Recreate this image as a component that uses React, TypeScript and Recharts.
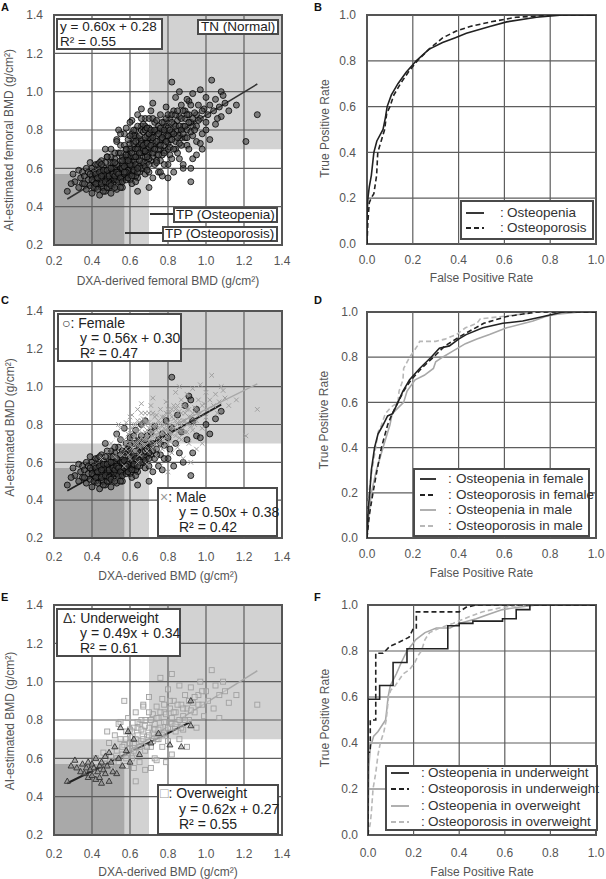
import React from 'react';
import {
  ScatterChart,
  Scatter,
  LineChart,
  Line,
  XAxis,
  YAxis,
  ReferenceArea,
  ReferenceLine,
} from 'recharts';

const FONT = "'Liberation Sans', Arial, Helvetica, sans-serif";

// ---------- axis ticks ----------
const BMD_TICKS = [0.2, 0.4, 0.6, 0.8, 1.0, 1.2, 1.4];
const BMD_GRID = [0.4, 0.6, 0.8, 1.0, 1.2];
const ROC_TICKS = [0, 0.2, 0.4, 0.6, 0.8, 1.0];
const ROC_GRID = [0.2, 0.4, 0.6, 0.8];

// ---------- diagnostic thresholds (g/cm²) ----------
const NORMAL_CUT = 0.7;
const OSTEOPOROSIS_CUT = 0.57;

// ---------- scatter data: [DXA BMD, AI BMD] ----------
const FEMALE: [number, number][] = [
  [0.27, 0.48], [0.3, 0.57], [0.31, 0.53], [0.33, 0.59], [0.34, 0.55], [0.35, 0.52], [0.35, 0.58], [0.33, 0.5], [0.29, 0.52],
  [0.36, 0.56], [0.37, 0.49], [0.37, 0.6], [0.38, 0.54], [0.38, 0.58], [0.39, 0.51], [0.39, 0.63], [0.4, 0.47], [0.4, 0.56],
  [0.4, 0.6], [0.41, 0.53], [0.41, 0.58], [0.42, 0.5], [0.42, 0.62], [0.42, 0.55], [0.36, 0.52], [0.39, 0.57],
  [0.43, 0.57], [0.43, 0.52], [0.44, 0.46], [0.44, 0.6], [0.44, 0.55], [0.45, 0.58], [0.45, 0.5], [0.45, 0.64], [0.46, 0.53],
  [0.46, 0.57], [0.46, 0.61], [0.47, 0.48], [0.47, 0.55], [0.47, 0.59], [0.48, 0.52], [0.48, 0.57], [0.48, 0.66], [0.49, 0.54],
  [0.49, 0.6], [0.49, 0.5], [0.5, 0.56], [0.5, 0.58], [0.5, 0.63], [0.5, 0.47], [0.44, 0.53], [0.46, 0.56], [0.48, 0.55],
  [0.43, 0.62], [0.47, 0.7], [0.45, 0.54], [0.47, 0.57], [0.49, 0.57], [0.5, 0.53], [0.46, 0.5],
  [0.51, 0.55], [0.51, 0.6], [0.51, 0.52], [0.52, 0.57], [0.52, 0.54], [0.52, 0.65], [0.53, 0.49], [0.53, 0.56], [0.53, 0.59],
  [0.54, 0.61], [0.54, 0.55], [0.54, 0.68], [0.55, 0.53], [0.55, 0.57], [0.55, 0.72], [0.56, 0.58], [0.56, 0.62], [0.56, 0.5],
  [0.57, 0.55], [0.57, 0.65], [0.57, 0.59], [0.58, 0.56], [0.58, 0.63], [0.58, 0.7], [0.52, 0.6], [0.55, 0.6], [0.53, 0.75],
  [0.57, 0.78], [0.51, 0.58], [0.53, 0.54], [0.54, 0.58], [0.56, 0.55], [0.58, 0.6], [0.55, 0.64],
  [0.59, 0.57], [0.59, 0.67], [0.6, 0.6], [0.6, 0.54], [0.6, 0.73], [0.61, 0.58], [0.61, 0.64], [0.62, 0.56], [0.62, 0.7],
  [0.62, 0.61], [0.63, 0.59], [0.63, 0.66], [0.63, 0.77], [0.64, 0.62], [0.64, 0.55], [0.65, 0.68], [0.65, 0.58], [0.65, 0.72],
  [0.66, 0.64], [0.66, 0.8], [0.61, 0.52], [0.64, 0.48], [0.6, 0.57], [0.62, 0.58], [0.59, 0.62], [0.63, 0.56],
  [0.67, 0.6], [0.67, 0.7], [0.68, 0.66], [0.68, 0.57], [0.69, 0.74], [0.69, 0.63], [0.7, 0.68], [0.7, 0.58], [0.71, 0.76],
  [0.71, 0.64], [0.72, 0.55], [0.72, 0.7], [0.73, 0.62], [0.73, 0.79], [0.74, 0.67], [0.75, 0.72], [0.75, 0.58], [0.68, 0.82],
  [0.7, 0.5], [0.76, 0.64], [0.77, 0.75], [0.77, 0.56], [0.78, 0.69], [0.79, 0.82], [0.8, 0.62], [0.8, 0.73], [0.81, 0.67],
  [0.82, 1.05], [0.82, 0.78], [0.83, 0.58], [0.84, 0.7], [0.85, 0.85], [0.86, 0.65], [0.87, 0.76], [0.88, 0.6], [0.89, 0.9],
  [0.9, 0.72], [0.91, 0.95], [0.92, 0.53], [0.92, 0.93], [0.93, 0.82], [0.95, 0.74], [0.97, 0.73], [1.0, 0.8], [1.02, 0.75],
  [1.05, 0.83], [1.08, 0.87], [0.95, 0.88], [0.93, 0.65],
  [0.4, 0.54], [0.41, 0.5], [0.42, 0.57], [0.43, 0.55], [0.43, 0.49], [0.44, 0.58], [0.45, 0.52], [0.45, 0.56], [0.46, 0.59],
  [0.46, 0.48], [0.47, 0.53], [0.47, 0.63], [0.48, 0.5], [0.48, 0.59], [0.49, 0.52], [0.49, 0.56], [0.5, 0.51], [0.5, 0.6],
  [0.51, 0.57], [0.51, 0.63], [0.52, 0.5], [0.52, 0.56], [0.53, 0.58], [0.53, 0.62], [0.54, 0.53], [0.54, 0.57], [0.55, 0.55],
  [0.55, 0.5], [0.56, 0.6], [0.56, 0.53], [0.57, 0.57], [0.57, 0.61], [0.58, 0.54], [0.58, 0.66], [0.59, 0.59], [0.59, 0.55],
  [0.6, 0.63], [0.6, 0.66], [0.61, 0.56], [0.61, 0.61], [0.62, 0.59], [0.62, 0.64], [0.63, 0.62], [0.63, 0.53], [0.64, 0.58],
  [0.64, 0.66], [0.65, 0.61], [0.66, 0.6], [0.66, 0.68], [0.67, 0.63], [0.68, 0.61], [0.69, 0.67], [0.7, 0.62], [0.71, 0.7],
  [0.72, 0.66], [0.44, 0.63], [0.42, 0.52], [0.5, 0.66], [0.52, 0.68], [0.56, 0.66], [0.58, 0.58], [0.6, 0.69], [0.62, 0.74],
  [0.64, 0.71], [0.66, 0.74], [0.68, 0.72], [0.7, 0.65], [0.74, 0.64], [0.76, 0.7], [0.78, 0.62],
];

const MALE: [number, number][] = [
  [0.45, 0.62], [0.48, 0.66], [0.5, 0.7], [0.52, 0.63], [0.53, 0.74], [0.55, 0.68], [0.55, 0.78], [0.56, 0.64], [0.57, 0.72],
  [0.58, 0.81], [0.58, 0.67], [0.59, 0.75], [0.6, 0.7], [0.6, 0.62], [0.61, 0.78], [0.61, 0.85], [0.62, 0.73], [0.62, 0.66],
  [0.63, 0.8], [0.63, 0.7], [0.64, 0.76], [0.64, 0.88], [0.65, 0.72], [0.65, 0.64], [0.66, 0.82], [0.66, 0.75], [0.67, 0.69],
  [0.67, 0.79], [0.68, 0.86], [0.68, 0.73], [0.69, 0.77], [0.69, 0.66], [0.7, 0.81], [0.7, 0.71], [0.71, 0.9], [0.71, 0.75],
  [0.72, 0.68], [0.72, 0.79], [0.73, 0.84], [0.73, 0.73], [0.74, 0.77], [0.74, 0.63], [0.75, 0.82], [0.75, 0.7], [0.76, 0.88],
  [0.76, 0.75], [0.77, 0.79], [0.77, 0.67], [0.78, 0.84], [0.78, 0.72], [0.79, 0.92], [0.79, 0.77], [0.8, 0.81], [0.8, 0.7],
  [0.81, 0.86], [0.81, 0.75], [0.82, 0.65], [0.82, 0.79], [0.83, 0.9], [0.83, 0.83], [0.84, 0.74], [0.84, 0.97], [0.85, 0.8],
  [0.85, 0.68], [0.86, 0.87], [0.86, 0.77], [0.87, 0.93], [0.87, 0.72], [0.88, 0.82], [0.88, 0.62], [0.89, 0.86], [0.89, 0.76],
  [0.9, 0.96], [0.9, 0.8], [0.91, 0.7], [0.91, 0.88], [0.92, 0.84], [0.93, 0.99], [0.93, 0.77], [0.94, 0.89], [0.95, 0.82],
  [0.95, 0.67], [0.96, 0.93], [0.97, 1.01], [0.97, 0.86], [0.98, 0.78], [0.99, 0.91], [1.0, 0.97], [1.0, 0.84], [1.01, 0.88],
  [1.02, 0.93], [1.03, 1.06], [1.04, 0.9], [1.05, 0.96], [1.06, 0.86], [1.07, 0.92], [1.08, 1.0], [1.09, 0.98], [1.1, 0.94],
  [1.12, 0.9], [1.16, 0.93], [1.21, 0.74], [1.27, 0.88], [0.57, 0.58], [0.64, 0.6], [0.69, 0.59], [0.76, 0.58], [0.8, 0.55],
  [0.72, 0.94], [0.66, 0.91], [0.6, 0.84], [0.54, 0.8], [0.86, 1.0], [0.92, 0.6], [0.98, 0.7], [0.7, 0.76], [0.74, 0.8],
  [0.78, 0.78], [0.82, 0.84], [0.66, 0.7], [0.62, 0.77], [0.68, 0.8], [0.72, 0.74],
  [0.58, 0.7], [0.59, 0.64], [0.6, 0.77], [0.61, 0.68], [0.62, 0.8], [0.63, 0.74], [0.63, 0.66], [0.64, 0.7], [0.64, 0.82],
  [0.65, 0.77], [0.65, 0.68], [0.66, 0.73], [0.66, 0.86], [0.67, 0.72], [0.67, 0.83], [0.68, 0.76], [0.68, 0.69], [0.69, 0.81],
  [0.69, 0.73], [0.7, 0.78], [0.7, 0.86], [0.71, 0.72], [0.71, 0.8], [0.72, 0.76], [0.72, 0.86], [0.73, 0.7], [0.73, 0.8],
  [0.74, 0.74], [0.74, 0.85], [0.75, 0.78], [0.75, 0.67], [0.76, 0.81], [0.76, 0.72], [0.77, 0.84], [0.77, 0.76], [0.78, 0.8],
  [0.78, 0.68], [0.79, 0.74], [0.79, 0.86], [0.8, 0.77], [0.8, 0.88], [0.81, 0.8], [0.81, 0.71], [0.82, 0.88], [0.82, 0.75],
  [0.83, 0.78], [0.83, 0.7], [0.84, 0.82], [0.84, 0.88], [0.85, 0.76], [0.85, 0.9], [0.86, 0.82], [0.86, 0.73], [0.87, 0.8],
  [0.87, 0.86], [0.88, 0.78], [0.88, 0.9], [0.89, 0.82], [0.9, 0.76], [0.9, 0.88], [0.91, 0.84], [0.92, 0.79], [0.93, 0.86],
  [0.94, 0.8], [0.96, 0.85], [0.98, 0.9],
];

const UNDERWEIGHT: [number, number][] = [
  [0.27, 0.48], [0.29, 0.56], [0.31, 0.59], [0.32, 0.55], [0.34, 0.53], [0.35, 0.57], [0.36, 0.52], [0.37, 0.55], [0.38, 0.58],
  [0.38, 0.5], [0.39, 0.54], [0.4, 0.57], [0.4, 0.51], [0.41, 0.55], [0.42, 0.6], [0.42, 0.49], [0.43, 0.53], [0.44, 0.56],
  [0.44, 0.5], [0.45, 0.58], [0.45, 0.47], [0.46, 0.54], [0.47, 0.61], [0.47, 0.52], [0.48, 0.56], [0.49, 0.63], [0.49, 0.48],
  [0.5, 0.58], [0.51, 0.53], [0.52, 0.66], [0.53, 0.52], [0.54, 0.6], [0.55, 0.76], [0.56, 0.56], [0.58, 0.64], [0.59, 0.74],
  [0.6, 0.58], [0.62, 0.7], [0.65, 0.62], [0.71, 0.68], [0.75, 0.73], [0.81, 0.67], [0.87, 0.66], [0.92, 0.77], [0.92, 0.9],
];

const OVERWEIGHT: [number, number][] = [
  [0.4, 0.55], [0.42, 0.6], [0.44, 0.52], [0.46, 0.63], [0.48, 0.57], [0.49, 0.68], [0.5, 0.61], [0.51, 0.54], [0.52, 0.72],
  [0.53, 0.64], [0.54, 0.58], [0.55, 0.7], [0.55, 0.79], [0.56, 0.62], [0.57, 0.67], [0.58, 0.74], [0.58, 0.56], [0.59, 0.81],
  [0.6, 0.65], [0.6, 0.71], [0.61, 0.6], [0.62, 0.76], [0.62, 0.68], [0.63, 0.84], [0.63, 0.63], [0.64, 0.72], [0.65, 0.78],
  [0.65, 0.58], [0.66, 0.69], [0.67, 0.88], [0.67, 0.74], [0.68, 0.64], [0.68, 0.8], [0.69, 0.71], [0.7, 0.76], [0.7, 0.92],
  [0.71, 0.66], [0.72, 0.83], [0.72, 0.73], [0.73, 0.78], [0.73, 0.6], [0.74, 0.87], [0.75, 0.7], [0.75, 0.81], [0.76, 0.76],
  [0.77, 0.91], [0.77, 0.66], [0.78, 0.84], [0.78, 0.73], [0.79, 0.79], [0.8, 0.96], [0.8, 0.69], [0.81, 0.86], [0.81, 0.76],
  [0.82, 0.81], [0.82, 0.62], [0.83, 0.9], [0.84, 0.74], [0.84, 0.84], [0.85, 0.79], [0.86, 0.98], [0.86, 0.7], [0.87, 0.88],
  [0.88, 0.82], [0.88, 0.75], [0.89, 0.93], [0.9, 0.86], [0.9, 0.66], [0.91, 0.8], [0.92, 0.97], [0.93, 0.89], [0.94, 0.84],
  [0.95, 0.76], [0.96, 0.93], [0.97, 1.0], [0.98, 0.88], [0.99, 0.82], [1.0, 0.95], [1.01, 0.9], [1.03, 1.06], [1.04, 0.86],
  [1.05, 0.98], [1.07, 0.93], [1.09, 1.0], [1.1, 0.95], [1.12, 0.89], [1.16, 0.93], [1.07, 0.81], [1.27, 0.88], [0.48, 0.74],
  [0.54, 0.78], [0.57, 0.9], [0.62, 0.55], [0.68, 0.54], [0.74, 0.59], [0.79, 0.58], [0.63, 0.48], [0.67, 0.87], [0.82, 1.04],
  [0.76, 1.02], [0.71, 0.55], [0.66, 0.8], [0.7, 0.84], [0.74, 0.7], [0.78, 0.88], [0.64, 0.76], [0.6, 0.75],
  [0.56, 0.66], [0.58, 0.7], [0.59, 0.63], [0.6, 0.68], [0.61, 0.74], [0.62, 0.64], [0.63, 0.7], [0.64, 0.79], [0.65, 0.66],
  [0.66, 0.75], [0.67, 0.7], [0.68, 0.77], [0.69, 0.66], [0.7, 0.72], [0.71, 0.8], [0.72, 0.69], [0.73, 0.75], [0.74, 0.81],
  [0.75, 0.75], [0.76, 0.84], [0.77, 0.72], [0.78, 0.79], [0.79, 0.83], [0.8, 0.76], [0.81, 0.9], [0.82, 0.78], [0.83, 0.84],
  [0.84, 0.78], [0.85, 0.88], [0.86, 0.8], [0.87, 0.76], [0.88, 0.86], [0.89, 0.8], [0.91, 0.9], [0.92, 0.85], [0.94, 0.92],
  [0.96, 0.88], [0.98, 0.95], [0.58, 0.6], [0.53, 0.6], [0.5, 0.57], [0.47, 0.6], [0.45, 0.57],
];

// ---------- fitted regression segments: [x, y] endpoints ----------
const FIT_ALL: [number, number][] = [[0.27, 0.44], [1.27, 1.04]];
const FIT_FEMALE: [number, number][] = [[0.27, 0.45], [1.08, 0.905]];
const FIT_MALE: [number, number][] = [[0.45, 0.605], [1.27, 1.015]];
const FIT_UNDER: [number, number][] = [[0.27, 0.47], [0.92, 0.79]];
const FIT_OVER: [number, number][] = [[0.4, 0.518], [1.27, 1.057]];

// ---------- ROC curves: [FPR, TPR] ----------
const ROC_B_OSTEOPENIA: [number, number][] = [
  [0, 0], [0, 0.12], [0.004, 0.2], [0.01, 0.25], [0.019, 0.3], [0.03, 0.4], [0.043, 0.45], [0.07, 0.5], [0.08, 0.55],
  [0.088, 0.6], [0.106, 0.65], [0.135, 0.7], [0.171, 0.75], [0.215, 0.8], [0.27, 0.85], [0.33, 0.88], [0.383, 0.9],
  [0.434, 0.92], [0.536, 0.95], [0.61, 0.97], [0.74, 0.99], [0.855, 1], [1, 1],
];
const ROC_B_OSTEOPOROSIS: [number, number][] = [
  [0, 0], [0.004, 0.1], [0.01, 0.18], [0.018, 0.2], [0.03, 0.22], [0.042, 0.3], [0.047, 0.4], [0.062, 0.45], [0.077, 0.5],
  [0.086, 0.57], [0.1, 0.6], [0.117, 0.65], [0.146, 0.7], [0.18, 0.75], [0.22, 0.8], [0.27, 0.85], [0.33, 0.9], [0.39, 0.93],
  [0.45, 0.95], [0.54, 0.97], [0.65, 0.99], [0.83, 1], [1, 1],
];
const ROC_D_PENIA_F: [number, number][] = [
  [0, 0], [0.005, 0.12], [0.012, 0.2], [0.019, 0.3], [0.033, 0.4], [0.048, 0.46], [0.07, 0.5], [0.09, 0.54], [0.112, 0.55],
  [0.135, 0.6], [0.157, 0.65], [0.186, 0.7], [0.23, 0.75], [0.28, 0.8], [0.316, 0.84], [0.36, 0.85], [0.4, 0.88],
  [0.433, 0.9], [0.506, 0.93], [0.593, 0.95], [0.68, 0.96], [0.77, 0.98], [0.855, 1], [1, 1],
];
const ROC_D_POROSIS_F: [number, number][] = [
  [0, 0], [0.01, 0.1], [0.026, 0.2], [0.044, 0.3], [0.063, 0.4], [0.09, 0.5], [0.11, 0.55], [0.135, 0.6], [0.16, 0.65],
  [0.193, 0.7], [0.237, 0.75], [0.29, 0.8], [0.34, 0.85], [0.42, 0.9], [0.51, 0.95], [0.61, 0.98], [0.74, 1], [1, 1],
];
const ROC_D_PENIA_M: [number, number][] = [
  [0, 0], [0.008, 0.1], [0.019, 0.2], [0.041, 0.3], [0.07, 0.4], [0.085, 0.45], [0.1, 0.5], [0.11, 0.55], [0.14, 0.58],
  [0.16, 0.6], [0.175, 0.65], [0.21, 0.7], [0.25, 0.72], [0.29, 0.75], [0.3, 0.78], [0.33, 0.8], [0.38, 0.83], [0.43, 0.86],
  [0.48, 0.88], [0.535, 0.9], [0.61, 0.93], [0.725, 0.96], [0.78, 0.98], [0.83, 0.99], [0.93, 1], [1, 1],
];
const ROC_D_POROSIS_M: [number, number][] = [
  [0, 0], [0.003, 0.1], [0.008, 0.2], [0.022, 0.3], [0.038, 0.4], [0.049, 0.47], [0.063, 0.5], [0.08, 0.55], [0.106, 0.58],
  [0.135, 0.6], [0.14, 0.65], [0.157, 0.7], [0.16, 0.75], [0.186, 0.8], [0.2, 0.82], [0.22, 0.85], [0.23, 0.87], [0.3, 0.87],
  [0.34, 0.88], [0.39, 0.9], [0.43, 0.93], [0.48, 0.95], [0.495, 0.97], [0.59, 0.98], [0.67, 0.99], [0.74, 1], [1, 1],
];
const ROC_F_PENIA_UNDER: [number, number][] = [
  [0, 0], [0, 0.59], [0.051, 0.59], [0.051, 0.65], [0.11, 0.65], [0.11, 0.75], [0.171, 0.75], [0.171, 0.81], [0.35, 0.81],
  [0.35, 0.91], [0.4, 0.91], [0.4, 0.92], [0.46, 0.92], [0.46, 0.93], [0.59, 0.93], [0.59, 0.94], [0.65, 0.94], [0.65, 0.98],
  [0.71, 0.98], [0.71, 1], [1, 1],
];
const ROC_F_POROSIS_UNDER: [number, number][] = [
  [0, 0], [0, 0.36], [0.01, 0.36], [0.01, 0.5], [0.034, 0.5], [0.034, 0.79], [0.066, 0.79], [0.095, 0.82], [0.14, 0.84],
  [0.18, 0.86], [0.2, 0.9], [0.212, 0.9], [0.212, 0.97], [0.4, 0.97], [0.43, 0.99], [0.475, 1], [1, 1],
];
const ROC_F_PENIA_OVER: [number, number][] = [
  [0, 0], [0.004, 0.3], [0.01, 0.38], [0.025, 0.43], [0.044, 0.45], [0.077, 0.5], [0.083, 0.55], [0.088, 0.6], [0.098, 0.65],
  [0.124, 0.7], [0.146, 0.75], [0.171, 0.8], [0.21, 0.85], [0.25, 0.88], [0.3, 0.9], [0.36, 0.9], [0.4, 0.92], [0.475, 0.94],
  [0.53, 0.96], [0.59, 0.98], [0.66, 0.99], [0.74, 1], [1, 1],
];
const ROC_F_POROSIS_OVER: [number, number][] = [
  [0, 0], [0.01, 0.05], [0.015, 0.1], [0.022, 0.2], [0.034, 0.27], [0.044, 0.35], [0.054, 0.4], [0.07, 0.45], [0.08, 0.5],
  [0.09, 0.6], [0.1, 0.63], [0.12, 0.65], [0.154, 0.7], [0.183, 0.72], [0.205, 0.75], [0.22, 0.78], [0.234, 0.8], [0.25, 0.85],
  [0.27, 0.88], [0.314, 0.9], [0.373, 0.92], [0.446, 0.95], [0.5, 0.97], [0.59, 0.99], [0.68, 1], [1, 1],
];

// ---------- helpers ----------
const toXY = (pts: [number, number][]) => pts.map(([x, y]) => ({ x, y }));

const TICK_STYLE = { fill: '#555', fontSize: 12, fontFamily: FONT };
const GRID_STROKE = '#5e5e5e';

const CircleMark = (p: any) => (
  <circle cx={p.cx} cy={p.cy} r={3} fill="#444" fillOpacity={0.6} stroke="#000" strokeOpacity={0.85} strokeWidth={0.9} />
);
const CrossMark = (p: any) => {
  const s = 2.3;
  return (
    <path
      d={`M${p.cx - s},${p.cy - s}L${p.cx + s},${p.cy + s}M${p.cx - s},${p.cy + s}L${p.cx + s},${p.cy - s}`}
      stroke="#a0a0a0"
      strokeWidth={1}
      fill="none"
    />
  );
};
const TriangleMark = (p: any) => (
  <path
    d={`M${p.cx},${p.cy - 3.3}L${p.cx + 3},${p.cy + 2}L${p.cx - 3},${p.cy + 2}Z`}
    fill="#8a8a8a"
    fillOpacity={0.5}
    stroke="#333"
    strokeWidth={0.9}
  />
);
const SquareMark = (p: any) => (
  <rect x={p.cx - 2.5} y={p.cy - 2.5} width={5} height={5} fill="#e0e0e0" fillOpacity={0.35} stroke="#a0a0a0" strokeWidth={0.9} />
);

const yTitle = (text: string, dxFromAxisBox: number, shift: number) => (props: any) => {
  const vb = props.viewBox || { x: 0, y: 0, width: 0, height: 0 };
  const x = vb.x + dxFromAxisBox;
  const y = vb.y + vb.height / 2 + shift;
  return (
    <text
      x={x}
      y={y}
      transform={`rotate(-90 ${x} ${y})`}
      textAnchor="middle"
      dominantBaseline="central"
      fill="#555"
      fontSize={12}
      fontFamily={FONT}
    >
      {text}
    </text>
  );
};
const xTitle = (text: string, below: number) => (props: any) => {
  const vb = props.viewBox || { x: 0, y: 0, width: 0, height: 0 };
  const x = vb.x + vb.width / 2;
  const y = vb.y + below;
  return (
    <text x={x} y={y} textAnchor="middle" dominantBaseline="central" fill="#555" fontSize={12} fontFamily={FONT}>
      {text}
    </text>
  );
};

type SeriesDef = { data: [number, number][]; shape: any };
type FitDef = { pts: [number, number][]; color: string; width: number };

function BmdPanel(props: {
  height: number;
  top: number;
  xAxisH: number;
  tickMarginX: number;
  xLabel: string;
  yLabel: string;
  xTitleBelow: number;
  yTitleX: number;
  yTitleShift: number;
  series: SeriesDef[];
  fits: FitDef[];
}) {
  return (
    <ScatterChart
      width={303}
      height={props.height}
      margin={{ top: props.top, right: 21, bottom: 0, left: 0 }}
      style={{ fontFamily: FONT }}
    >
      <XAxis
        type="number"
        dataKey="x"
        domain={[0.2, 1.4]}
        ticks={BMD_TICKS}
        interval={0}
        allowDataOverflow
        axisLine={false}
        tickLine={false}
        tickSize={0}
        tickMargin={props.tickMarginX}
        height={props.xAxisH}
        tick={TICK_STYLE}
        tickFormatter={(v: number) => v.toFixed(1)}
        label={xTitle(props.xLabel, props.xTitleBelow)}
      />
      <YAxis
        type="number"
        dataKey="y"
        domain={[0.2, 1.4]}
        ticks={BMD_TICKS}
        interval={0}
        allowDataOverflow
        axisLine={false}
        tickLine={false}
        tickSize={0}
        tickMargin={11}
        width={54}
        tick={TICK_STYLE}
        tickFormatter={(v: number) => v.toFixed(1)}
        label={yTitle(props.yLabel, props.yTitleX, props.yTitleShift)}
      />
      <ReferenceArea x1={NORMAL_CUT} x2={1.4} y1={NORMAL_CUT} y2={1.4} fill="#d2d2d2" fillOpacity={1} stroke="none" />
      <ReferenceArea x1={0.2} x2={NORMAL_CUT} y1={0.2} y2={NORMAL_CUT} fill="#d2d2d2" fillOpacity={1} stroke="none" />
      <ReferenceArea x1={0.2} x2={OSTEOPOROSIS_CUT} y1={0.2} y2={OSTEOPOROSIS_CUT} fill="#a9a9a9" fillOpacity={1} stroke="none" />
      {BMD_GRID.map((v) => (
        <ReferenceLine key={'gx' + v} x={v} stroke={GRID_STROKE} strokeWidth={1.2} />
      ))}
      {BMD_GRID.map((v) => (
        <ReferenceLine key={'gy' + v} y={v} stroke={GRID_STROKE} strokeWidth={1.2} />
      ))}
      {props.series.map((s, i) => (
        <Scatter key={'s' + i} data={toXY(s.data)} shape={s.shape} isAnimationActive={false} />
      ))}
      {props.fits.map((f, i) => (
        <ReferenceLine key={'f' + i} segment={toXY(f.pts)} stroke={f.color} strokeWidth={f.width} />
      ))}
      <ReferenceArea x1={0.2} x2={1.4} y1={0.2} y2={1.4} fill="none" fillOpacity={0} stroke="#555" strokeWidth={2} />
    </ScatterChart>
  );
}

type CurveDef = { data: [number, number][]; color: string; dash?: string };

function RocPanel(props: {
  height: number;
  top: number;
  yAxisW: number;
  xAxisH: number;
  tickMarginX: number;
  tickMarginY: number;
  xTitleBelow: number;
  yTitleX: number;
  yTitleShift: number;
  curves: CurveDef[];
}) {
  return (
    <LineChart
      width={303}
      height={props.height}
      margin={{ top: props.top, right: 10, bottom: 0, left: 0 }}
      style={{ fontFamily: FONT }}
    >
      <XAxis
        type="number"
        dataKey="x"
        domain={[0, 1]}
        ticks={ROC_TICKS}
        interval={0}
        allowDataOverflow
        axisLine={false}
        tickLine={false}
        tickSize={0}
        tickMargin={props.tickMarginX}
        height={props.xAxisH}
        tick={TICK_STYLE}
        tickFormatter={(v: number) => v.toFixed(1)}
        label={xTitle('False Positive Rate', props.xTitleBelow)}
      />
      <YAxis
        type="number"
        dataKey="y"
        domain={[0, 1]}
        ticks={ROC_TICKS}
        interval={0}
        allowDataOverflow
        axisLine={false}
        tickLine={false}
        tickSize={0}
        tickMargin={props.tickMarginY}
        width={props.yAxisW}
        tick={TICK_STYLE}
        tickFormatter={(v: number) => v.toFixed(1)}
        label={yTitle('True Positive Rate', props.yTitleX, props.yTitleShift)}
      />
      {ROC_GRID.map((v) => (
        <ReferenceLine key={'gx' + v} x={v} stroke={GRID_STROKE} strokeWidth={1.2} />
      ))}
      {ROC_GRID.map((v) => (
        <ReferenceLine key={'gy' + v} y={v} stroke={GRID_STROKE} strokeWidth={1.2} />
      ))}
      {props.curves.map((c, i) => (
        <Line
          key={'c' + i}
          data={toXY(c.data)}
          dataKey="y"
          type="linear"
          dot={false}
          activeDot={false}
          stroke={c.color}
          strokeWidth={1.6}
          strokeDasharray={c.dash}
          isAnimationActive={false}
        />
      ))}
      <ReferenceArea x1={0} x2={1} y1={0} y2={1} fill="none" fillOpacity={0} stroke="#555" strokeWidth={2} />
    </LineChart>
  );
}

// ---------- HTML annotation boxes ----------
type Row = { x: number; cy: number; content: React.ReactNode };
function TextBox(p: { l: number; t: number; w: number; h: number; fs: number; rows: Row[] }) {
  const lh = p.fs + 2;
  return (
    <div
      style={{
        position: 'absolute',
        left: p.l,
        top: p.t,
        width: p.w,
        height: p.h,
        boxSizing: 'border-box',
        border: '2px solid #4a4a4a',
        background: '#fff',
        fontFamily: FONT,
        fontSize: p.fs,
        color: '#222',
        whiteSpace: 'nowrap',
        overflow: 'visible',
      }}
    >
      {p.rows.map((r, i) => (
        <div
          key={i}
          style={{ position: 'absolute', left: r.x - p.l - 2, top: r.cy - p.t - 2 - lh / 2, lineHeight: lh + 'px' }}
        >
          {r.content}
        </div>
      ))}
    </div>
  );
}

type LegItem = { label: string; color: string; dash?: string };
function LegendBox(p: {
  l: number; t: number; w: number; h: number; rowsY: number[];
  sx: number; sw: number; colonX: number; textX: number; items: LegItem[];
}) {
  const fs = 13.5;
  const lh = 16;
  return (
    <div
      style={{
        position: 'absolute', left: p.l, top: p.t, width: p.w, height: p.h, boxSizing: 'border-box',
        border: '2px solid #4a4a4a', background: '#fff', fontFamily: FONT, fontSize: fs, color: '#333',
        whiteSpace: 'nowrap', overflow: 'visible',
      }}
    >
      {p.items.map((it, i) => (
        <React.Fragment key={i}>
          <svg
            style={{ position: 'absolute', left: p.sx - p.l - 2, top: p.rowsY[i] - p.t - 2 - 2 }}
            width={p.sw}
            height={4}
          >
            <line x1={0} y1={2} x2={p.sw} y2={2} stroke={it.color} strokeWidth={1.8} strokeDasharray={it.dash} />
          </svg>
          <div style={{ position: 'absolute', left: p.colonX - p.l - 2, top: p.rowsY[i] - p.t - 2 - lh / 2, lineHeight: lh + 'px' }}>:</div>
          <div style={{ position: 'absolute', left: p.textX - p.l - 2, top: p.rowsY[i] - p.t - 2 - lh / 2, lineHeight: lh + 'px' }}>
            {it.label}
          </div>
        </React.Fragment>
      ))}
    </div>
  );
}

const PanelLetter = ({ l, t, s }: { l: number; t: number; s: string }) => (
  <div style={{ position: 'absolute', left: l, top: t, fontFamily: FONT, fontWeight: 700, fontSize: 11, lineHeight: '12px', color: '#111' }}>
    {s}
  </div>
);

const HLine = ({ x1, x2, y }: { x1: number; x2: number; y: number }) => (
  <div style={{ position: 'absolute', left: x1, top: y - 0.75, width: x2 - x1, height: 1.5, background: '#333' }} />
);

const DARK = '#222';
const LIGHT = '#a8a8a8';
const LIGHT2 = '#b8b8b8';

export default function App() {
  return (
    <div style={{ position: 'absolute', left: 0, top: 0, width: 606, height: 879, background: '#fff', overflow: 'hidden' }}>
      {/* A */}
      <div style={{ position: 'absolute', left: 0, top: 0 }}>
        <BmdPanel
          height={290}
          top={15}
          xAxisH={45}
          tickMarginX={11}
          xLabel="DXA-derived femoral BMD (g/cm²)"
          yLabel="AI-estimated femoral BMD (g/cm²)"
          xTitleBelow={36}
          yTitleX={9}
          yTitleShift={10}
          series={[{ data: [...FEMALE, ...MALE], shape: CircleMark }]}
          fits={[{ pts: FIT_ALL, color: '#333', width: 1.5 }]}
        />
      </div>
      {/* B */}
      <div style={{ position: 'absolute', left: 303, top: 0 }}>
        <RocPanel
          height={290}
          top={15}
          yAxisW={64}
          xAxisH={46}
          tickMarginX={11}
          tickMarginY={11}
          xTitleBelow={34}
          yTitleX={22}
          yTitleShift={-1}
          curves={[
            { data: ROC_B_OSTEOPENIA, color: DARK },
            { data: ROC_B_OSTEOPOROSIS, color: DARK, dash: '5 3' },
          ]}
        />
      </div>
      {/* C */}
      <div style={{ position: 'absolute', left: 0, top: 290 }}>
        <BmdPanel
          height={300}
          top={21}
          xAxisH={52}
          tickMarginX={14}
          xLabel="DXA-derived BMD (g/cm²)"
          yLabel="AI-estimated BMD (g/cm²)"
          xTitleBelow={38}
          yTitleX={10}
          yTitleShift={3}
          series={[
            { data: FEMALE, shape: CircleMark },
            { data: MALE, shape: CrossMark },
          ]}
          fits={[
            { pts: FIT_MALE, color: LIGHT, width: 1.5 },
            { pts: FIT_FEMALE, color: '#222', width: 1.8 },
          ]}
        />
      </div>
      {/* D */}
      <div style={{ position: 'absolute', left: 303, top: 290 }}>
        <RocPanel
          height={300}
          top={22}
          yAxisW={64}
          xAxisH={52}
          tickMarginX={11}
          tickMarginY={9}
          xTitleBelow={35}
          yTitleX={21}
          yTitleShift={-5}
          curves={[
            { data: ROC_D_PENIA_M, color: LIGHT },
            { data: ROC_D_POROSIS_M, color: LIGHT2, dash: '5 3' },
            { data: ROC_D_PENIA_F, color: DARK },
            { data: ROC_D_POROSIS_F, color: DARK, dash: '5 3' },
          ]}
        />
      </div>
      {/* E */}
      <div style={{ position: 'absolute', left: 0, top: 590 }}>
        <BmdPanel
          height={289}
          top={15}
          xAxisH={44}
          tickMarginX={14}
          xLabel="DXA-derived BMD (g/cm²)"
          yLabel="AI-estimated BMD (g/cm²)"
          xTitleBelow={36.5}
          yTitleX={10}
          yTitleShift={1}
          series={[
            { data: OVERWEIGHT, shape: SquareMark },
            { data: UNDERWEIGHT, shape: TriangleMark },
          ]}
          fits={[
            { pts: FIT_OVER, color: LIGHT, width: 1.5 },
            { pts: FIT_UNDER, color: '#222', width: 2 },
          ]}
        />
      </div>
      {/* F */}
      <div style={{ position: 'absolute', left: 303, top: 590 }}>
        <RocPanel
          height={289}
          top={15}
          yAxisW={65}
          xAxisH={44}
          tickMarginX={13}
          tickMarginY={10}
          xTitleBelow={36.5}
          yTitleX={22}
          yTitleShift={-2}
          curves={[
            { data: ROC_F_PENIA_OVER, color: LIGHT },
            { data: ROC_F_POROSIS_OVER, color: LIGHT2, dash: '5 3' },
            { data: ROC_F_PENIA_UNDER, color: DARK },
            { data: ROC_F_POROSIS_UNDER, color: DARK, dash: '5 3' },
          ]}
        />
      </div>

      {/* panel letters */}
      <PanelLetter l={1} t={1} s="A" />
      <PanelLetter l={314} t={1} s="B" />
      <PanelLetter l={1} t={294} s="C" />
      <PanelLetter l={314} t={294} s="D" />
      <PanelLetter l={1} t={591} s="E" />
      <PanelLetter l={314} t={591} s="F" />

      {/* A annotations */}
      <TextBox l={56} t={18} w={107} h={32} fs={13.5} rows={[
        { x: 60, cy: 27, content: 'y = 0.60x + 0.28' },
        { x: 60, cy: 42, content: 'R² = 0.55' },
      ]} />
      <TextBox l={197} t={19} w={82} h={16} fs={13.5} rows={[{ x: 201, cy: 27, content: 'TN (Normal)' }]} />
      <HLine x1={150} x2={173} y={214} />
      <TextBox l={173} t={207} w={105} h={16} fs={13.5} rows={[{ x: 176, cy: 215, content: 'TP (Osteopenia)' }]} />
      <HLine x1={125} x2={162} y={233} />
      <TextBox l={162} t={226} w={116} h={16} fs={13.5} rows={[{ x: 165, cy: 234, content: 'TP (Osteoporosis)' }]} />

      {/* C annotations */}
      <TextBox l={57} t={313} w={125} h={49} fs={14} rows={[
        { x: 62, cy: 323, content: <span><span style={{ color: '#333' }}>○</span>: Female</span> },
        { x: 80, cy: 338, content: 'y = 0.56x + 0.30' },
        { x: 80, cy: 353, content: 'R² = 0.47' },
      ]} />
      <TextBox l={157} t={487} w={121} h={50} fs={14} rows={[
        { x: 160, cy: 497, content: <span><span style={{ color: '#999' }}>×</span>: Male</span> },
        { x: 179, cy: 512, content: 'y = 0.50x + 0.38' },
        { x: 179, cy: 527, content: 'R² = 0.42' },
      ]} />

      {/* E annotations */}
      <TextBox l={56} t={608} w={125} h={49} fs={14} rows={[
        { x: 63, cy: 618, content: <span><span style={{ color: '#333' }}>Δ</span>: Underweight</span> },
        { x: 80, cy: 633, content: 'y = 0.49x + 0.34' },
        { x: 80, cy: 648, content: 'R² = 0.61' },
      ]} />
      <TextBox l={157} t={784} w={122} h={51} fs={14} rows={[
        { x: 160, cy: 793, content: <span><span style={{ color: '#999' }}>□</span>: Overweight</span> },
        { x: 179, cy: 809, content: 'y = 0.62x + 0.27' },
        { x: 179, cy: 824, content: 'R² = 0.55' },
      ]} />

      {/* ROC legends */}
      <LegendBox l={460} t={200} w={134} h={40} rowsY={[213, 228]} sx={466} sw={18} colonX={500} textX={507}
        items={[
          { label: 'Osteopenia', color: DARK },
          { label: 'Osteoporosis', color: DARK, dash: '5 3' },
        ]} />
      <LegendBox l={413} t={468} w={177} h={69} rowsY={[479, 494.5, 510, 525.5]} sx={420} sw={16} colonX={448} textX={456}
        items={[
          { label: 'Osteopenia in female', color: DARK },
          { label: 'Osteoporosis in female', color: DARK, dash: '5 3' },
          { label: 'Osteopenia in male', color: LIGHT },
          { label: 'Osteoporosis in male', color: LIGHT2, dash: '5 3' },
        ]} />
      <LegendBox l={385} t={765} w={213} h={66} rowsY={[773, 789, 806, 822]} sx={391} sw={18} colonX={421} textX={428}
        items={[
          { label: 'Osteopenia in underweight', color: DARK },
          { label: 'Osteoporosis in underweight', color: DARK, dash: '5 3' },
          { label: 'Osteopenia in overweight', color: LIGHT },
          { label: 'Osteoporosis in overweight', color: LIGHT2, dash: '5 3' },
        ]} />
    </div>
  );
}
